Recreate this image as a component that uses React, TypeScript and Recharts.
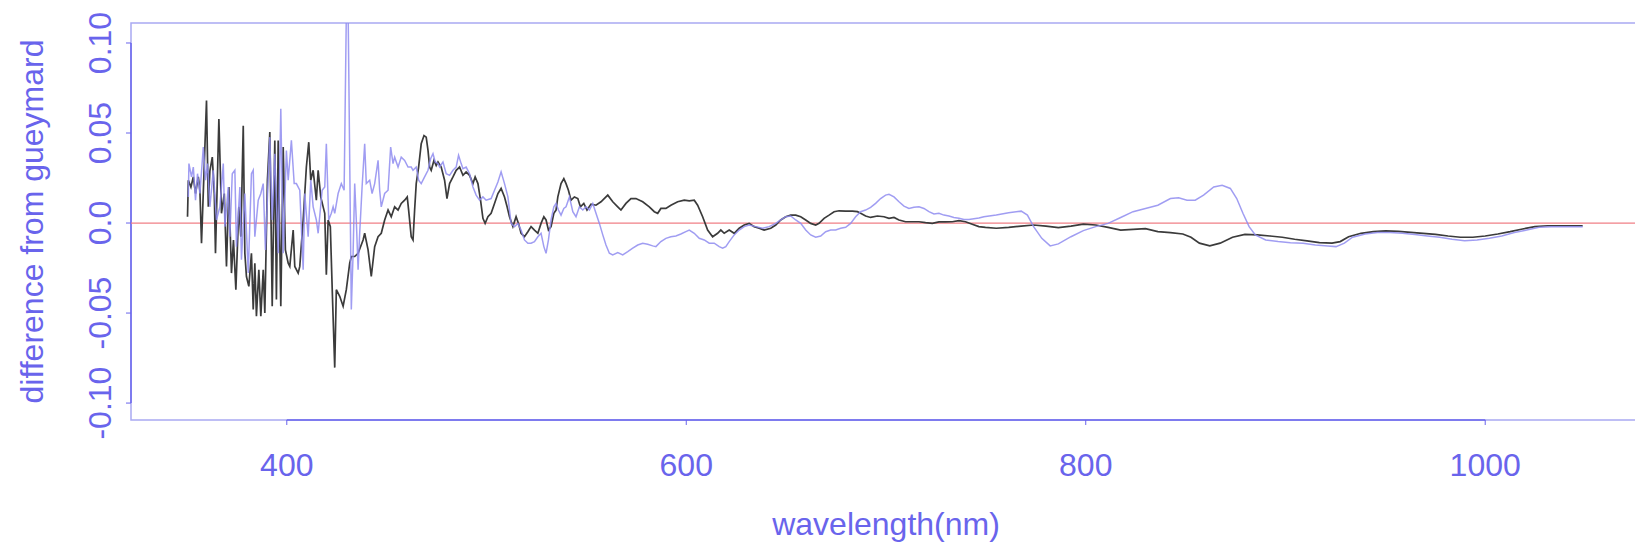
import { LineChart, Line, XAxis, YAxis, ReferenceLine, ReferenceArea } from 'recharts';

// wavelength (nm) and difference from gueymard, dark trace
const darkWl = [
  350.3, 350.7, 352, 353.2, 354.3, 355.7, 356.5, 357.3, 358.7, 359.8, 360.7, 361.5, 362.7, 363.7, 364.3, 366,
  367.3, 368.7, 369.8, 371, 372.3, 373.3, 374.5, 376, 377, 378.2, 379, 379.8, 381, 382.3, 383.2, 384, 384.8, 386,
  387, 388.2, 389, 390.3, 391.5, 392.7, 394, 394.8, 395.7, 397, 398.2, 399.3, 400.7, 401.5, 403.2, 404, 405.7,
  406.5, 408.2, 409.8, 411, 412, 413.2, 414.8, 415.7, 417, 418.2, 419, 419.8, 420.7, 421.8, 422.8, 424, 424.8,
  426.5, 428.2, 429.8, 431.5, 432.3, 434, 435.7, 438.2, 439, 440.7, 442.3, 444, 445.7, 447.3, 449, 450.7, 452.3,
  454, 455.7, 457.3, 459, 460.3, 461, 462.3, 463.2, 464, 464.8, 466, 467.3, 468.7, 469.8, 470.7, 471.5, 472.3,
  473.7, 474.8, 475.7, 477.3, 479, 480.2, 481.5, 483.2, 484.8, 486.5, 488.2, 489.8, 491.5, 493.2, 494.3, 495.7,
  497, 498.2, 499.3, 500.7, 502.3, 504, 505.7, 507.3, 509, 510.3, 511.5, 513.2, 514.8, 516, 517.3, 519, 520.7,
  522.3, 524, 525.7, 527.3, 528.7, 529.8, 531, 532.3, 533.7, 534.8, 535.7, 537.3, 538.7, 539.8, 541, 542.3, 544,
  545.7, 547, 548.7, 550.3, 552.3, 554.8, 557.3, 560.7, 563.2, 565.7, 567.3, 569.8, 572.3, 574.8, 578.2, 581.5,
  584, 585.7, 587.3, 589.8, 592.3, 595.7, 599, 601.5, 604, 605.7, 608.2, 610.7, 613.2, 615.7, 617.3, 619, 621.5,
  624, 626.5, 629, 631.5, 634, 636.5, 639, 642.3, 644.8, 647.3, 649.8, 652.3, 654.8, 657.3, 659.8, 662.3, 664.8,
  666.5, 669, 671.5, 674, 676.5, 679.8, 683.2, 685.7, 687.3, 689.8, 692.3, 695.7, 699, 701.5, 704, 706.5, 709.8,
  713.2, 716.5, 719.8, 723.2, 726.5, 729.8, 733.2, 736.5, 739.8, 743.2, 746.5, 749.8, 755.2, 761.4, 767.7, 773.9,
  780.1, 786.3, 792.6, 798.8, 805, 811.2, 817.5, 823.7, 829.9, 836.1, 842.4, 848.6, 852.7, 856.9, 862.1, 867.3,
  873.5, 879.7, 885.9, 892.2, 898.4, 904.6, 910.8, 917, 923.3, 927.4, 931.6, 937.8, 944, 950.2, 956.5, 962.7,
  968.9, 975.1, 981.4, 987.6, 993.8, 1000, 1006.3, 1012.5, 1018.7, 1024.9, 1031.2, 1037.4, 1043.6, 1048.8,
];
const darkDiff = [
  0.0035, 0.0238, 0.02, 0.0256, 0.0164, 0.0256, 0.018, -0.0112, 0.033, 0.068, 0.009, 0.029, 0.0366, 0.0164, -0.0168, 0.0578,
  0.0054, 0.0164, -0.0241, 0.02, -0.0278, -0.0094, -0.037, 0.009, -0.0076, 0.054, -0.0168, -0.0297, -0.0352, -0.0168, -0.048, -0.0223, -0.0518, -0.026,
  -0.0518, -0.026, -0.05, 0.0238, 0.0505, -0.0462, 0.0459, -0.0425, 0.0459, -0.0462, 0.0422, -0.0149, -0.0223, -0.0241, -0.0039, -0.0241, -0.0278,
  -0.0241, 0.0017, 0.0311, 0.0449, 0.0238, 0.0293, 0.0127, 0.0293, 0.0145, 0.009, 0.0054, -0.0287, 0.0017, -0.002, -0.0389, -0.0803, -0.037,
  -0.0407, -0.0462, -0.037, -0.0223, -0.0186, -0.0186, -0.0168, -0.0094, -0.0057, -0.0149, -0.0297, -0.0131, -0.0076, -0.0057, 0.0017, 0.0072, 0.0035,
  0.009, 0.0072, 0.0109, 0.0127, 0.0145, 0.0072, -0.0076, -0.0094, 0.0072, 0.0219, 0.0311, 0.044, 0.0486, 0.0477, 0.0403, 0.0311, 0.0293,
  0.0348, 0.032, 0.0339, 0.0311, 0.0238, 0.0136, 0.0219, 0.0256, 0.0293, 0.0311, 0.0265, 0.0284, 0.0265, 0.0219, 0.0256, 0.0219,
  0.0127, 0.0026, -0.0002, 0.0035, 0.0054, 0.0109, 0.0164, 0.0192, 0.0145, 0.009, 0.0035, -0.002, 0.0035, -0.0002, -0.0057, -0.0076, -0.0048,
  -0.002, -0.0039, -0.0057, -0.0002, 0.0035, 0.0017, -0.0039, -0.002, 0.0054, 0.0072, 0.0145, 0.0219, 0.0247, 0.0219, 0.0182, 0.0127, 0.0145,
  0.0136, 0.009, 0.0109, 0.0072, 0.0105, 0.0099, 0.0118, 0.0155, 0.0118, 0.009, 0.0072, 0.0109, 0.0136, 0.0136, 0.0118, 0.009,
  0.0063, 0.0054, 0.0081, 0.0081, 0.0099, 0.0118, 0.0127, 0.0123, 0.0127, 0.0099, 0.0035, -0.0039, -0.0076, -0.0057, -0.0039, -0.0057, -0.0039,
  -0.0057, -0.0029, -0.0011, -0.0002, -0.002, -0.0029, -0.0039, -0.0029, -0.0011, 0.0017, 0.0035, 0.0044, 0.0044, 0.0035, 0.0017, -0.0002, -0.0011,
  -0.0002, 0.0026, 0.0044, 0.0063, 0.0068, 0.0066, 0.0066, 0.0063, 0.0054, 0.0039, 0.0031, 0.0039, 0.0035, 0.0026, 0.0031, 0.0017, 0.0007,
  0.0007, 0.0007, 0.0002, -0.0002, 0.0006, 0.0006, 0.0007, 0.0013, 0.0007, -0.0007, -0.002, -0.0024, -0.0029, -0.0024, -0.0017, -0.0011,
  -0.0017, -0.0026, -0.0017, -0.0006, -0.0011, -0.0024, -0.0039, -0.0035, -0.0031, -0.0048, -0.0053, -0.0061, -0.0079, -0.0112, -0.0127, -0.0112,
  -0.0079, -0.0063, -0.0066, -0.0072, -0.0079, -0.009, -0.0099, -0.0109, -0.0112, -0.0103, -0.0076, -0.0057, -0.0048, -0.0044, -0.0046, -0.0052,
  -0.0057, -0.0063, -0.0072, -0.0079, -0.0079, -0.0072, -0.0061, -0.0048, -0.0033, -0.002, -0.0015, -0.0015, -0.0015, -0.0015,
];

// wavelength (nm) and difference from gueymard, blue trace
const blueWl = [
  350.7, 351, 352.3, 353.2, 354.3, 355.3, 356.5, 358.2, 359.3, 360.3, 361.5, 363.2, 364.8, 366.5, 368.2, 369, 370.7,
  371.5, 372.7, 374, 374.8, 376.5, 377.3, 379, 380.7, 382.3, 383.2, 384, 385.7, 387, 388.2, 389.3, 391.5, 392.7, 394,
  395.7, 397, 398.2, 399.8, 400.7, 402.3, 403.7, 404.8, 406.5, 408.2, 409, 410.7, 412, 413.2, 414.8, 415.7, 417.7,
  419, 419.8, 421, 422.3, 423.2, 424, 425.7, 427.3, 428.7, 430.3, 432.3, 433.2, 434, 434.8, 435.7, 436.5, 437.7, 439,
  439.8, 441.5, 442.7, 444, 445.7, 446.5, 447.3, 449, 450.7, 452, 453.2, 454, 455.7, 457.3, 459, 460.7, 462.3, 463.2,
  464.8, 466, 467.3, 469, 470.7, 472, 473.2, 474.3, 475.7, 476.5, 478.2, 479.8, 481.5, 483.2, 484.8, 486, 487.3,
  488.2, 489.8, 491.5, 493.2, 494.8, 496.5, 498.2, 499.8, 502.3, 504, 505.7, 507.3, 509, 510.7, 512.3, 514, 515.7,
  517.3, 519, 520.7, 522.3, 524, 525.7, 527.3, 528.7, 529.8, 531, 532.3, 533.7, 534.8, 536, 537.3, 538.7, 539.8,
  541.5, 543.2, 544.8, 546.5, 548.2, 549.8, 551.5, 553.2, 554.8, 556.5, 558.2, 559.8, 561.5, 563.2, 565.7, 568.2,
  570.7, 573.2, 575.7, 578.2, 580.7, 583.2, 584.8, 587.3, 589.8, 592.3, 594.8, 597.3, 599.8, 601.5, 604, 606.5, 609,
  611.5, 614, 616.5, 618.2, 619.8, 621.5, 624, 626.5, 629, 631.5, 634.8, 638.2, 641.5, 644.8, 647.3, 649.8, 652.3,
  654.8, 657.3, 659.8, 662.3, 664.8, 667.3, 669.8, 672.3, 674.8, 677.3, 679.8, 682.3, 684.8, 687.3, 689.8, 692.3,
  694.8, 697.3, 699.8, 701.5, 704, 706.5, 709, 711.5, 714, 716.5, 719, 721.5, 724, 726.5, 729, 731.5, 734, 736.5,
  739, 741.5, 744, 746.5, 749, 755.2, 761.4, 767.7, 770.8, 773.9, 778, 782.2, 786.3, 792.6, 798.8, 805, 811.2,
  817.5, 823.7, 829.9, 836.1, 842.4, 846.5, 850.7, 854.8, 859, 864.1, 868.3, 872.4, 875.6, 878.7, 881.8, 884.9,
  890.1, 896.3, 902.5, 908.8, 915, 921.2, 925.3, 929.5, 933.6, 939.9, 946.1, 952.3, 958.5, 964.8, 971, 977.2, 983.4,
  989.7, 995.9, 1002.1, 1008.3, 1014.6, 1020.8, 1027, 1033.2, 1039.5, 1048.8,
];
const blueDiff = [
  0.0145, 0.033, 0.0256, 0.0311, 0.0127, 0.0274, 0.0164, 0.0422, 0.0238, 0.033, 0.009, 0.0293, 0.0017, 0.009, 0.033, -0.002, 0.02,
  -0.0076, 0.0274, 0.0293, -0.0131, 0.02, -0.0204, 0.0164, -0.0278, 0.0274, 0.0293, -0.0076, 0.0127, 0.0164, 0.0219, -0.0149, 0.0477, 0.0017, 0.0385,
  -0.0168, 0.0634, -0.0168, 0.0403, 0.0238, 0.0459, 0.0219, 0.0219, 0.0182, -0.026, 0.0164, -0.0076, 0.0238, 0.009, 0.0017, -0.0057, 0.0182,
  0.02, 0.044, 0.0017, 0.0054, 0.009, 0.0054, 0.0164, 0.0219, 0.0182, 0.16, -0.048, -0.0168, 0.0219, 0.0017, -0.026, -0.0057, 0.02, 0.044,
  0.0219, 0.0238, 0.0164, 0.0219, 0.0348, 0.0182, 0.009, 0.0164, 0.0182, 0.0422, 0.033, 0.0366, 0.0311, 0.0366, 0.0348, 0.0311, 0.0311, 0.0293,
  0.0311, 0.0238, 0.0219, 0.0256, 0.0293, 0.0357, 0.0385, 0.0339, 0.033, 0.0311, 0.0339, 0.0274, 0.0265, 0.0293, 0.0311, 0.0376, 0.033,
  0.0302, 0.0311, 0.0274, 0.02, 0.0155, 0.0127, 0.0145, 0.0127, 0.0136, 0.0182, 0.0228, 0.0284, 0.0219, 0.0145, -0.0002, -0.002, -0.0002,
  -0.0039, -0.0094, -0.0112, -0.0112, -0.0103, -0.0076, -0.0057, -0.0131, -0.0168, -0.0094, 0.0017, 0.009, 0.0109, 0.0072, 0.0044, 0.0081, 0.009,
  0.0145, 0.0063, 0.0035, 0.009, 0.0072, 0.009, 0.0072, 0.0109, 0.0054, -0.0002, -0.0066, -0.0122, -0.0168, -0.0177, -0.0164, -0.0177,
  -0.0159, -0.014, -0.0122, -0.0112, -0.0118, -0.0127, -0.0131, -0.0103, -0.0085, -0.0076, -0.0072, -0.0061, -0.0048, -0.0039, -0.0057, -0.0085, -0.0094,
  -0.0112, -0.0112, -0.0131, -0.014, -0.0131, -0.0103, -0.0066, -0.0039, -0.002, -0.0011, -0.002, -0.0029, -0.002, -0.0002, 0.0017, 0.0035, 0.0039,
  0.0017, -0.0002, -0.0039, -0.0066, -0.0079, -0.0072, -0.0048, -0.0039, -0.0039, -0.0029, -0.0024, -0.0002, 0.0035, 0.0063, 0.0072, 0.0087,
  0.0109, 0.0136, 0.0155, 0.016, 0.0145, 0.0118, 0.0094, 0.0081, 0.0087, 0.009, 0.0081, 0.0063, 0.005, 0.0054, 0.0044, 0.0039, 0.0031, 0.0026,
  0.002, 0.002, 0.0024, 0.0028, 0.0035, 0.0044, 0.0057, 0.0066, 0.0044, -0.002, -0.0085, -0.0127, -0.0116, -0.0076, -0.0042, -0.002, -0.0002,
  0.0031, 0.0063, 0.0081, 0.0099, 0.0136, 0.014, 0.0127, 0.0127, 0.0155, 0.02, 0.021, 0.0192, 0.0136, 0.0054, -0.002, -0.0066,
  -0.0094, -0.0103, -0.0109, -0.0112, -0.0122, -0.0127, -0.0131, -0.0112, -0.0079, -0.0061, -0.0053, -0.0053, -0.0057, -0.0064, -0.0072, -0.0079, -0.009,
  -0.0098, -0.0094, -0.0085, -0.0072, -0.0053, -0.0039, -0.0024, -0.002, -0.002, -0.002,
];

const xTicks = [400, 600, 800, 1000];
const yTicks = [-0.1, -0.05, 0, 0.05, 0.1];
const yTickLabels = ['-0.10', '-0.05', '0.0', '0.05', '0.10'];

const X_DOMAIN: [number, number] = [322, 1078];
const Y_DOMAIN: [number, number] = [-0.1094, 0.1111];

const INK = '#6964ec';
const FRAME = '#a9a9f2';
const FONT = '"Liberation Sans", Arial, Helvetica, sans-serif';
const FS = 32;

const darkData = darkWl.map((wl, i) => ({ wl, diff: darkDiff[i] }));
const blueData = blueWl.map((wl, i) => ({ wl, diff: blueDiff[i] }));

const XTick = ({ x, y, payload }: any) => (
  <text x={x} y={y + 38} textAnchor="middle" dominantBaseline="central" fill={INK} fontSize={FS} fontFamily={FONT}>
    {payload.value}
  </text>
);

const YTick = ({ x, y, payload }: any) => {
  const idx = yTicks.indexOf(payload.value);
  const cx = x - 24;
  return (
    <text
      x={cx}
      y={y}
      transform={`rotate(-90, ${cx}, ${y})`}
      textAnchor="middle"
      dominantBaseline="central"
      fill={INK}
      fontSize={FS}
      fontFamily={FONT}
    >
      {idx >= 0 ? yTickLabels[idx] : payload.value}
    </text>
  );
};

const XTitle = ({ viewBox }: any) => (
  <text
    x={viewBox.x + viewBox.width / 2}
    y={viewBox.y + 104}
    textAnchor="middle"
    dominantBaseline="central"
    fill={INK}
    fontSize={FS}
    fontFamily={FONT}
  >
    wavelength(nm)
  </text>
);

const YTitle = ({ viewBox }: any) => {
  const cx = viewBox.x + 32;
  const cy = viewBox.y + viewBox.height / 2;
  return (
    <text
      x={cx}
      y={cy}
      transform={`rotate(-90, ${cx}, ${cy})`}
      textAnchor="middle"
      dominantBaseline="central"
      fill={INK}
      fontSize={FS}
      fontFamily={FONT}
    >
      difference from gueymard
    </text>
  );
};

export default function App() {
  return (
    <div
      style={{
        position: 'absolute',
        left: 0,
        top: 0,
        width: 1635,
        height: 546,
        overflow: 'hidden',
        background: '#ffffff',
      }}
    >
      <LineChart width={1650} height={546} margin={{ top: 23, right: 9, bottom: 0, left: 0 }}>
        <XAxis
          type="number"
          dataKey="wl"
          domain={X_DOMAIN}
          ticks={xTicks}
          allowDataOverflow
          height={126}
          axisLine={false}
          tickLine={{ stroke: INK }}
          tickSize={5}
          tick={<XTick />}
          label={<XTitle />}
        />
        <YAxis
          type="number"
          dataKey="diff"
          domain={Y_DOMAIN}
          ticks={yTicks}
          allowDataOverflow
          width={131}
          axisLine={false}
          tickLine={{ stroke: INK }}
          tickSize={5}
          tick={<YTick />}
          label={<YTitle />}
        />

        {/* plot frame */}
        <ReferenceArea
          x1={X_DOMAIN[0]}
          x2={X_DOMAIN[1]}
          y1={Y_DOMAIN[0]}
          y2={Y_DOMAIN[1]}
          fill="none"
          stroke={FRAME}
          strokeWidth={1.5}
          ifOverflow="visible"
        />
        {/* axis lines span first to last tick */}
        <ReferenceLine
          segment={[{ x: 400, y: Y_DOMAIN[0] }, { x: 1000, y: Y_DOMAIN[0] }]}
          stroke={INK}
          strokeWidth={1.5}
          ifOverflow="visible"
        />
        <ReferenceLine
          segment={[{ x: X_DOMAIN[0], y: -0.1 }, { x: X_DOMAIN[0], y: 0.1 }]}
          stroke={INK}
          strokeWidth={1.5}
          ifOverflow="visible"
        />

        <ReferenceLine y={0} stroke="#f07f86" strokeWidth={1.2} />

        <Line
          data={darkData}
          dataKey="diff"
          type="linear"
          stroke="#3b3b3b"
          strokeWidth={1.7}
          dot={false}
          isAnimationActive={false}
        />
        <Line
          data={blueData}
          dataKey="diff"
          type="linear"
          stroke="#8f8cf0"
          strokeOpacity={0.85}
          strokeWidth={1.5}
          dot={false}
          isAnimationActive={false}
        />
      </LineChart>
    </div>
  );
}
